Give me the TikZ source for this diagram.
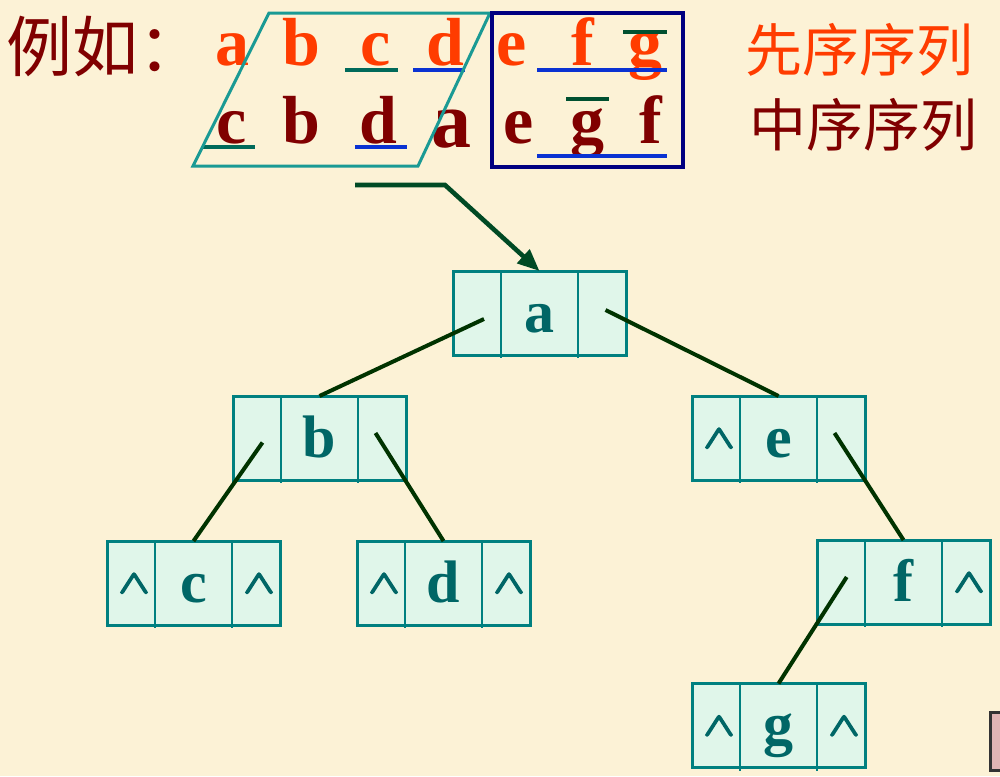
\documentclass[tikz,border=0pt]{standalone}
\usepackage{fontspec}
\setmainfont{Liberation Serif}
\newfontfamily\cjk{Noto Sans CJK SC}
\usetikzlibrary{calc,arrows.meta}
\definecolor{bg}{RGB}{252,242,214}
\definecolor{cellfill}{RGB}{224,246,234}
\definecolor{cellborder}{RGB}{0,128,128}
\definecolor{nodetext}{RGB}{0,102,102}
\definecolor{edgecol}{RGB}{0,51,0}
\definecolor{arrowcol}{RGB}{0,74,36}
\definecolor{orangered}{RGB}{255,60,0}
\definecolor{darkred}{RGB}{128,0,0}
\definecolor{ulgreen}{RGB}{0,106,90}
\definecolor{olgreen}{RGB}{0,80,48}
\definecolor{ulblue}{RGB}{10,50,210}
\definecolor{paracol}{RGB}{26,154,148}
\definecolor{navy}{RGB}{0,0,128}
\definecolor{pinkfill}{RGB}{224,180,180}
\definecolor{greyline}{RGB}{51,51,51}
\tikzset{
  cellbox/.style={fill=cellfill, inner sep=0pt, outer sep=0pt, minimum height=42pt,
    text height=30.5pt, text depth=11.5pt, text=nodetext,
    font=\bfseries\fontsize{30}{30}\selectfont},
  cellframe/.style={draw=cellborder, line width=1.5pt},
  divline/.style={draw=cellborder, line width=1pt},
  edge/.style={draw=edgecol, line width=2pt},
  toprow/.style={inner sep=0pt, anchor=base, text=orangered, font=\bfseries\fontsize{34}{34}\selectfont},
  botrow/.style={inner sep=0pt, anchor=base, text=darkred, font=\bfseries\fontsize{34}{34}\selectfont},
  mark line/.style={line width=2pt},
}
\newcommand\NilMark{\makebox[0pt]{\hspace*{3pt}\raisebox{4.5pt}{\special{pdf:literal direct 2 Tr 0.7 w}\scalebox{1}[0.8]{\fontsize{20}{20}\selectfont\boldmath$\wedge$}\special{pdf:literal direct 0 Tr}}}}
\newcommand\TreeNode[6]{%
  \node[cellbox, minimum width=24pt, anchor=north west] (#1-l) at (#2,#3) {#4};
  \node[cellbox, minimum width=38.5pt, anchor=north west] (#1-d) at (#1-l.north east) {#5};
  \node[cellbox, minimum width=24pt, anchor=north west] (#1-r) at (#1-d.north east) {#6};
  \draw[divline] (#1-l.north east) -- ($(#1-l.south east)+(0,3)$);
  \draw[divline] (#1-d.north east) -- ($(#1-d.south east)+(0,3)$);
  \draw[cellframe] (#1-l.north west) rectangle (#1-r.south east);
}
\begin{document}
\begin{tikzpicture}[x=0.5pt,y=-0.5pt]
\fill[bg] (0,0) rectangle (1000,776);
\useasboundingbox (0,0) rectangle (1000,776);
\clip (0,0) rectangle (1000,776);

% heading
\node[anchor=west, inner sep=0pt, text=darkred, font=\cjk\fontsize{33}{33}\selectfont] (title) at (6,46) {例如：};
\node[anchor=west, inner sep=0pt, text=orangered, font=\cjk\fontsize{28.5}{28.5}\selectfont] (prelabel) at (745,50) {先序序列};
\node[anchor=west, inner sep=0pt, text=darkred, font=\cjk\fontsize{28.5}{28.5}\selectfont] (inlabel) at (749,125) {中序序列};

% preorder row
\node[toprow] (p1) at (232,65) {a};
\node[toprow] (p2) at (301,65) {b};
\node[toprow] (p3) at (376,65) {c};
\node[toprow] (p4) at (445,65) {d};
\node[toprow] (p5) at (512,65) {e};
\node[toprow] (p6) at (583,65) {f};
\node[toprow] (p7) at (645,65) {g};
% inorder row
\node[botrow] (m1) at (232,143) {c};
\node[botrow] (m2) at (301,143) {b};
\node[botrow] (m3) at (378,143) {d};
\node[botrow, font=\bfseries\fontsize{40}{40}\selectfont] (m4) at (451,147) {a};
\node[botrow] (m5) at (519,143) {e};
\node[botrow] (m6) at (587,143) {g};
\node[botrow] (m7) at (651,143) {f};

% under/over lines
\draw[mark line, ulgreen] (345,70) -- (398,70);
\draw[mark line, ulblue] (413,70) -- (465,70);
\draw[mark line, ulblue] (537,70) -- (667,70);
\draw[mark line, olgreen] (623,32) -- (667,32);
\draw[mark line, ulgreen] (202,147) -- (255,147);
\draw[mark line, ulblue] (355,147) -- (407,147);
\draw[mark line, olgreen] (566,99) -- (609,99);
\draw[mark line, ulblue] (537,156) -- (667,156);

% frames
\draw[paracol, line width=1.5pt] (269,13) -- (490,13) -- (418,166) -- (193,166) -- cycle;
\draw[navy, line width=2pt] (492,13) rectangle (683,167);

% tree nodes
\TreeNode{a}{453}{271}{}{a}{}
\TreeNode{b}{233}{396}{}{b}{}
\TreeNode{e}{692}{396}{\NilMark}{e}{}
\TreeNode{c}{107}{541}{\NilMark}{c}{\NilMark}
\TreeNode{d}{357}{541}{\NilMark}{d}{\NilMark}
\TreeNode{f}{817}{540}{}{f}{\NilMark}
\TreeNode{g}{692}{683.5}{\NilMark}{g}{\NilMark}

% arrow from the split
\coordinate (s0) at (355,185);
\coordinate (s1) at (445,185);
\draw[draw=arrowcol, line width=2.3pt, line join=miter, -{Triangle[length=11pt,width=9pt]}] (s0) -- (s1) -- (a-d.north);

% edges
\draw[edge] ($(a-l.center)+(7,6)$) -- (b-d.north);
\draw[edge] ($(a-r.center)+(3.5,-3)$) -- (e-d.north);
\draw[edge] ($(b-l.center)+(5.5,4.5)$) -- (c-d.north);
\draw[edge] ($(b-r.center)+(-6.5,-5)$) -- (d-d.north);
\draw[edge] ($(e-r.center)+(-6.5,-5)$) -- (f-d.north);
\draw[edge] ($(f-l.center)+(5.7,-5)$) -- (g-d.north);

% corner box
\draw[draw=greyline, fill=pinkfill, line width=1.5pt] (990,712) rectangle (1010,770);
\end{tikzpicture}
\end{document}
